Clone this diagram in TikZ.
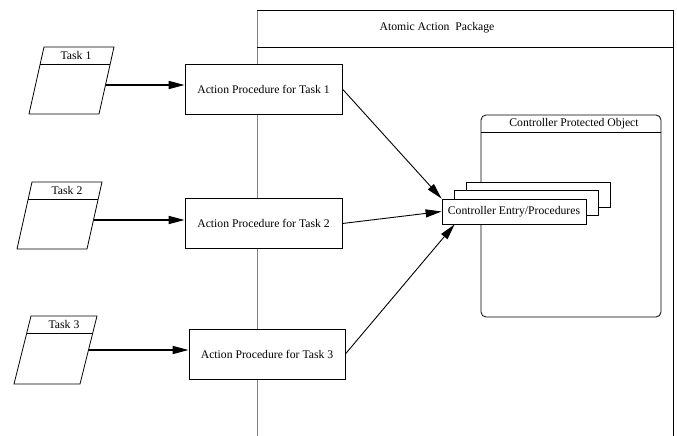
\documentclass[tikz,border=0pt]{standalone}
\usepackage{fontspec}
\setmainfont{Liberation Serif}
\usetikzlibrary{arrows.meta}

\tikzset{
  apbox/.style={draw, fill=white, inner sep=0pt, minimum width=157, minimum height=50},
  entbox/.style={draw, fill=white, inner sep=0pt, minimum width=144, minimum height=25},
  taskarrow/.style={line width=1.5pt, -{Triangle[length=16pt, width=8pt]}},
  aparrow/.style={line width=0.9pt, -{Triangle[length=16pt, width=8pt]}}
}

\begin{document}
\begin{tikzpicture}[x=1pt, y=-1pt, line width=0.8pt, every node/.style={font=\fontsize{11.7}{14}\selectfont}]
      \useasboundingbox (0,0) rectangle (677,436);

      % package frame
      \draw[gray] (257,436) -- (257,10);
      \draw (257,10) -- (673,10) -- (673,436);
      \draw (257,47) -- (673,47);
      \node (pkg) at (437,28) {Atomic Action\ \ Package};

      % tasks
      \draw (44,47) -- (114,47) -- (99,114) -- (29,114) -- cycle;
      \draw (40.2,64) -- (110.2,64);
      \node (t1) at (76,55.5) {Task 1};
      \coordinate (t1out) at (105.5,85);

      \draw (32,182) -- (102,182) -- (87,249) -- (17,249) -- cycle;
      \draw (28.2,199) -- (98.2,199);
      \node (t2) at (67,190.5) {Task 2};
      \coordinate (t2out) at (93.5,220);

      \draw (31,316) -- (97,316) -- (80,384) -- (14,384) -- cycle;
      \draw (26.8,333) -- (92.8,333);
      \node (t3) at (64,324.5) {Task 3};
      \coordinate (t3out) at (88.5,350);

      % action procedures
      \node[apbox] (ap1) at (263.5,89) {Action Procedure for Task 1};
      \node[apbox] (ap2) at (263.5,223.5) {Action Procedure for Task 2};
      \node[apbox, minimum width=156] (ap3) at (267,354) {Action Procedure for Task 3};

      % controller
      \draw[rounded corners=5] (481,115) rectangle (661,317);
      \draw (481,132) -- (661,132);
      \node (cpo) at (574,124) {Controller Protected Object};
      \node[entbox] (ent3) at (538,194.5) {};
      \node[entbox] (ent2) at (526,202.5) {};
      \node[entbox] (ent) at (514,211.5) {Controller Entry/Procedures};

      \draw[taskarrow] (t1out) -- (t1out -| ap1.west);
      \draw[taskarrow] (t2out) -- (t2out -| ap2.west);
      \draw[taskarrow] (t3out) -- (t3out -| ap3.west);

      \draw[aparrow] (ap1.east) -- (ent.north west);
      \draw[aparrow] (ap2.east) -- (ent.west);
      \draw[aparrow] (ap3.east) -- ([xshift=13pt]ent.south west);
\end{tikzpicture}
\end{document}
